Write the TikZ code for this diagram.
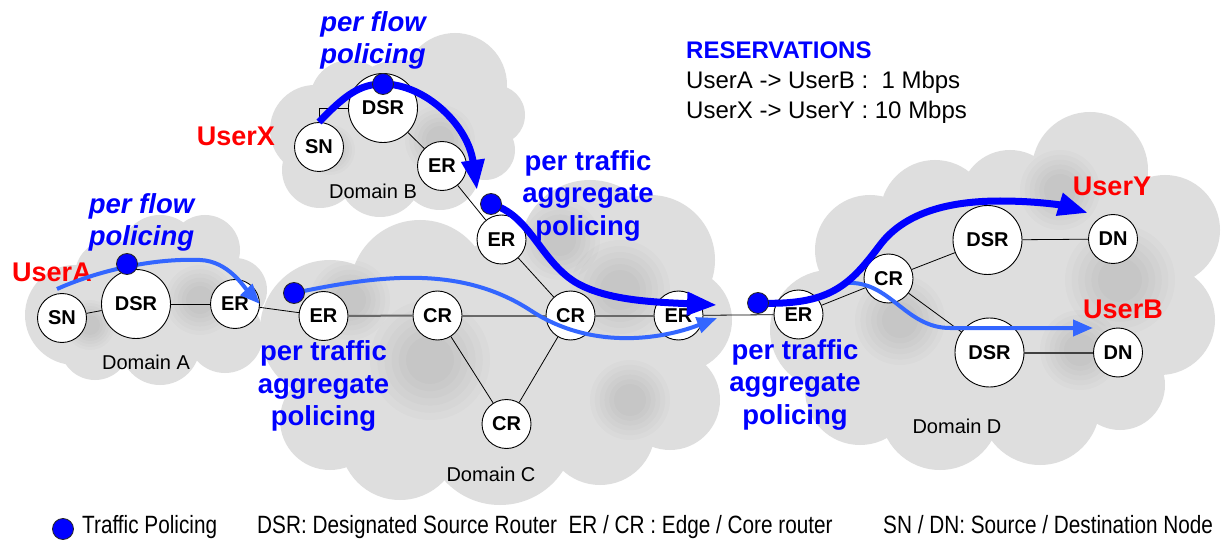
\documentclass[tikz,border=0pt]{standalone}
\usepackage{fontspec}
\setmainfont{Liberation Sans}
\usetikzlibrary{arrows.meta}

\definecolor{flowblue}{RGB}{0,0,255}
\definecolor{aggblue}{RGB}{51,102,255}
\definecolor{cloudfill}{RGB}{222,222,222}
\definecolor{userred}{RGB}{255,0,0}
\definecolor{corelinkgray}{RGB}{105,105,105}

% centred multi-line label whose reference point is the first baseline
\newcommand{\labelstack}[1]{\begin{tabular}[t]{@{}c@{}}#1\end{tabular}}

\begin{document}
\begin{tikzpicture}[x=1pt,y=-1pt,
  router/.style={circle, draw=black, line width=0.9pt, fill=white, minimum size=49pt,
    inner sep=0pt, font=\fontsize{20}{24}\selectfont\bfseries},
  dsr/.style={router, minimum size=69pt},
  link/.style={black, line width=0.8pt},
  corelink/.style={corelinkgray, line width=2pt},
  aggflow/.style={aggblue, line width=4pt, -{Triangle[length=20pt,width=16pt]}},
  userflow/.style={flowblue, line width=7pt, -{Triangle[length=30pt,width=22pt]}},
  policer/.style={circle, fill=flowblue, draw=black!85, line width=0.8pt,
    minimum size=21pt, inner sep=0pt},
  policytext/.style={text=flowblue, inner sep=0pt, anchor=base,
    font=\fontsize{27.5}{32.5}\selectfont\bfseries},
  flowtext/.style={text=flowblue, inner sep=0pt, anchor=base,
    font=\fontsize{27.5}{32}\selectfont\bfseries\itshape},
  usertext/.style={text=userred, inner sep=0pt, anchor=base,
    font=\fontsize{27}{32}\selectfont\bfseries},
  domaintext/.style={inner sep=0pt, anchor=base, font=\fontsize{20}{24}\selectfont},
  restext/.style={inner sep=0pt, anchor=base west, font=\fontsize{24}{30}\selectfont},
  legendtext/.style={inner sep=0pt, anchor=base west, font=\fontsize{25}{30}\selectfont},
  shadow/.style={black, opacity=0.016}
]
\fill[white] (0,0) rectangle (1232,540);
\useasboundingbox (0,0) rectangle (1232,540);

% ---------- clouds: a core polygon plus puffs round its corners ----------
% Domain A
\fill[cloudfill] (75,315) -- (110,275) -- (160,255) -- (205,250) -- (235,290)
  -- (225,335) -- (160,345) -- (95,345) -- cycle;
\fill[cloudfill] (75,315) circle (50pt) (110,275) circle (35pt) (160,255) circle (40pt)
  (205,250) circle (35pt) (235,290) circle (32pt) (225,335) circle (38pt)
  (160,345) circle (40pt) (95,345) circle (35pt) (150,300) circle (55pt);
% Domain B
\fill[cloudfill] (315,130) -- (350,100) -- (455,85) -- (495,115) -- (485,150)
  -- (440,170) -- (380,175) -- (320,170) -- cycle;
\fill[cloudfill] (315,130) circle (45pt) (350,100) circle (40pt) (455,85) circle (52pt)
  (495,115) circle (30pt) (485,150) circle (30pt) (440,170) circle (40pt)
  (380,175) circle (42pt) (320,170) circle (38pt) (400,120) circle (60pt);
% Domain C
\fill[cloudfill] (330,330) -- (420,290) -- (590,250) -- (650,260) -- (680,320)
  -- (670,400) -- (600,430) -- (500,430) -- (400,440) -- (330,420) -- cycle;
\fill[cloudfill] (330,330) circle (70pt) (330,420) circle (50pt) (420,290) circle (70pt)
  (590,250) circle (70pt) (650,260) circle (65pt) (680,320) circle (52pt)
  (670,400) circle (50pt) (600,430) circle (55pt) (500,430) circle (75pt)
  (400,440) circle (60pt) (520,330) circle (95pt);
% Domain D
\fill[cloudfill] (830,330) -- (870,250) -- (935,215) -- (1010,200) -- (1090,170)
  -- (1165,230) -- (1160,320) -- (1120,385) -- (1040,405) -- (940,410) -- (860,390) -- cycle;
\fill[cloudfill] (830,330) circle (60pt) (870,250) circle (55pt) (935,215) circle (55pt)
  (1010,200) circle (50pt) (1090,170) circle (58pt) (1165,230) circle (55pt)
  (1160,320) circle (55pt) (1120,385) circle (45pt) (1040,405) circle (60pt)
  (940,410) circle (60pt) (860,390) circle (55pt) (1000,300) circle (110pt);
% soft darker puffs inside the clouds (stacked translucent discs)
\foreach \cx/\cy/\r in {200/300/35, 90/325/25, 440/140/35, 330/150/25,
    620/290/50, 430/360/60, 630/400/40, 350/300/40, 560/240/40,
    1120/280/55, 1080/350/40, 900/320/45, 1060/190/40}
  \foreach \k in {1.0,0.88,0.76,0.64,0.52,0.4}
    \fill[shadow] (\cx,\cy) circle ({\r*\k pt});

% ---------- routers and nodes ----------
\node[router] (snA)  at (62,318)    {SN};
\node[dsr]    (dsrA) at (136,304)   {DSR};
\node[router] (erA)  at (235,304)   {ER};
\node[router] (erC1) at (323.5,316) {ER};
\node[router] (crC1) at (437.5,315.5) {CR};
\node[router] (crC2) at (570.5,315.5) {CR};
\node[router] (erC2) at (678.5,315.5) {ER};
\node[router] (crC3) at (506.5,424) {CR};
\node[router] (erC3) at (501.5,239.5) {ER};
\node[router] (snB)  at (319,147)   {SN};
\node[dsr]    (dsrB) at (383,108)   {DSR};
\node[router] (erB)  at (442,166)   {ER};
\node[router] (erD)  at (798.5,314.5) {ER};
\node[router] (crD)  at (888.5,278.5) {CR};
\node[dsr]    (dsrD1) at (987.5,240) {DSR};
\node[router] (dnD1) at (1113,239)  {DN};
\node[dsr]    (dsrD2) at (989.5,352.5) {DSR};
\node[router] (dnD2) at (1118,352.5) {DN};

% ---------- links ----------
\draw[link] (snA) -- (dsrA);
\draw[link] (dsrA) -- (erA);
\draw[link] (erA) -- (erC1);
\draw[corelink] (erC1) -- (crC1);
\draw[corelink] (crC1) -- (crC2);
\draw[corelink] (crC2) -- (erC2);
\draw[link] (crC1) -- (crC3);
\draw[link] (crC2) -- (crC3);
\draw[link] (erC3) -- (crC2);
\draw[link] (erB) -- (erC3);
\draw[link] (dsrB) -- (erB);
\draw[link] (snB.north) |- (dsrB.west);
\draw[link] (erC2) -- (erD);
\draw[link] (erD) -- (crD);
\draw[link] (crD) -- (dsrD1);
\draw[link] (crD) -- (dsrD2);
\draw[link] (dsrD1) -- (dnD1);
\draw[corelink, black!75] (dsrD2) -- (dnD2);

% ---------- text labels ----------
\node[domaintext] (domA) at (146,369)   {Domain A};
\node[domaintext] (domB) at (373,199)   {Domain B};
\node[domaintext] (domC) at (491,481.5) {Domain C};
\node[domaintext] (domD) at (957,433)   {Domain D};

\node[usertext] (userA) at (52,281)   {UserA};
\node[usertext] (userX) at (236,146)  {UserX};
\node[usertext] (userY) at (1112,196) {UserY};
\node[usertext] (userB) at (1123,318) {UserB};

\node[flowtext] (pfA) at (141.5,214) {\labelstack{per flow\\policing}};
\node[flowtext] (pfB) at (373,31.5)  {\labelstack{per flow\\policing}};
\node[policytext] (paTop)   at (588,170.5)   {\labelstack{per traffic\\aggregate\\policing}};
\node[policytext] (paLeft)  at (323.5,360.5) {\labelstack{per traffic\\aggregate\\policing}};
\node[policytext] (paRight) at (795,359)     {\labelstack{per traffic\\aggregate\\policing}};

\node[restext] (resv) at (686,59) {\begin{tabular}[t]{@{}l@{}}%
  {\bfseries\color{flowblue}RESERVATIONS}\\
  UserA -> UserB :\ \ 1 Mbps\\
  UserX -> UserY : 10 Mbps\end{tabular}};

% ---------- traffic flows ----------
\coordinate (pA)  at (127,264);
\coordinate (pC1) at (294,293);
\coordinate (pB)  at (383,84);
\coordinate (pC2) at (491,204);
\coordinate (pD)  at (758,303);
\coordinate (startA) at (57,289);
\coordinate (startD) at (846,283);
\coordinate (tipBc) at (477,190);
\coordinate (tipCthick) at (717,305);
\coordinate (tipCthin) at (717,318);
\coordinate (tipY) at (1088,213);
\coordinate (tipB) at (1093,328);

% UserA -> UserB (1 Mbps)
\draw[aggflow] (startA) .. controls (95,272) and (150,258) .. (200,260)
  .. controls (228,261) and (244,287) .. (erA.east);
\draw[aggflow] (pC1) .. controls (380,275) and (460,265) .. (530,310)
  .. controls (590,350) and (660,340) .. (tipCthin);
\draw[aggflow] (startD) .. controls (890,280) and (905,328) .. (950,328) -- (tipB);

% UserX -> UserY (10 Mbps)
\draw[userflow] (snB.north) .. controls (345,95) and (360,84) .. (pB)
  .. controls (425,84) and (468,125) .. (tipBc);
\draw[userflow] (pC2) .. controls (530,215) and (540,260) .. (575,282)
  .. controls (605,300) and (650,302) .. (tipCthick);
\draw[userflow] (pD) .. controls (830,306) and (850,285) .. (880,245)
  .. controls (905,212) and (950,201) .. (1000,201)
  .. controls (1040,201) and (1065,206) .. (tipY);

% policing points on top of the flows
\node[policer] (polA)  at (pA)  {};
\node[policer] (polC1) at (pC1) {};
\node[policer] (polB)  at (pB)  {};
\node[policer] (polC2) at (pC2) {};
\node[policer] (polD)  at (pD)  {};

% ---------- legend ----------
\node[policer] (legdot) at (63,529) {};
\node[legendtext] (legPol) at (82,533) {\scalebox{0.83}[1]{Traffic Policing}};
\node[legendtext] (legRtr) at (257,533) {\scalebox{0.83}[1]{DSR: Designated Source Router\ \ ER / CR : Edge / Core router}};
\node[legendtext] (legNode) at (883,533) {\scalebox{0.83}[1]{SN / DN: Source / Destination Node}};
\end{tikzpicture}
\end{document}
